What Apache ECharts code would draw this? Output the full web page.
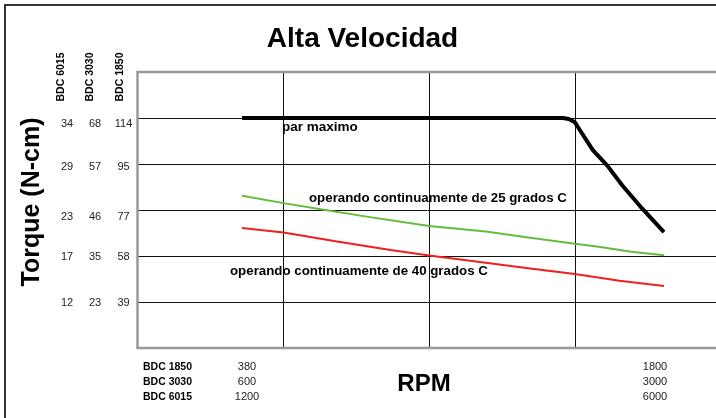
<!DOCTYPE html>
<html>
<head>
<meta charset="utf-8">
<script src="https://cdn.jsdelivr.net/npm/echarts@6/dist/echarts.min.js"></script>
<style>
  html, body { margin: 0; padding: 0; background: #fff; }
  #chart { width: 716px; height: 418px; }
</style>
</head>
<body>
<div id="chart"></div>
<script>
// Torque curves, BDC 1850 scale (RPM vs N-cm)
const maxTorqueRpm = [380, 1460, 1480, 1500, 1520, 1560, 1610, 1660, 1720, 1800];
const maxTorque    = [114, 114, 113.6, 112.3, 108.5, 101, 94.5, 86.5, 78, 67.5];

const cont25Rpm = [380, 520, 650, 800, 1010, 1200, 1350, 1500, 1580, 1690, 1800];
const cont25    = [82.3, 79.3, 76.7, 73.8, 70.0, 67.7, 65.2, 62.7, 61.5, 59.5, 58.1];

const cont40Rpm = [380, 520, 700, 880, 1010, 1200, 1350, 1500, 1650, 1800];
const cont40    = [69.2, 67.3, 63.7, 60.2, 58.0, 55.0, 52.7, 50.4, 47.7, 45.5];

// Torque tick labels per motor (bottom to top)
const ticks1850 = ['39', '58', '77', '95', '114'];
const ticks3030 = ['23', '35', '46', '57', '68'];
const ticks6015 = ['12', '17', '23', '29', '34'];

// Speed labels per motor
const motors   = ['BDC 1850', 'BDC 3030', 'BDC 6015'];
const rpmLow   = ['380', '600', '1200'];
const rpmHigh  = ['1800', '3000', '6000'];

const seriesNames = ['par maximo', 'operando continuamente de 25 grados C', 'operando continuamente de 40 grados C'];

const pair = (xs, ys) => xs.map((x, i) => [x, ys[i]]);

const FONT = 'Liberation Sans, Arial, Helvetica, sans-serif';
const Y_MIN = 20.25, Y_MAX = 132.75, Y_STEP = 18.75;
const X_MIN = 28.4, X_MAX = 1993.6, X_STEP = 491.3;

// small per-row nudges of the torque tick labels
const rowShift = [0.7, 1, 7, 3, 5.5];
const rich = {};
rowShift.forEach((s, i) => { rich['r' + i] = { padding: [2 * s, 0, 0, 0], fontSize: 11, fontFamily: FONT, color: '#222' }; });

function tickFormatter(labels) {
  return function (v) {
    const idx = Math.round((v - Y_MIN) / Y_STEP) - 1;
    if (idx < 0 || idx >= labels.length) return '';
    return '{r' + idx + '|' + labels[idx] + '}';
  };
}

function yAxisFor(labels, margin, showSplit) {
  return {
    type: 'value', position: 'left',
    min: Y_MIN, max: Y_MAX, interval: Y_STEP,
    axisLine: { show: false }, axisTick: { show: false },
    splitLine: { show: showSplit, lineStyle: { color: '#111', width: 1 } },
    axisLabel: {
      show: true, align: 'center', margin: margin,
      showMinLabel: false, showMaxLabel: false,
      formatter: tickFormatter(labels), rich: rich,
      fontSize: 11, fontFamily: FONT, color: '#222'
    }
  };
}

const chart = echarts.init(document.getElementById('chart'), null, { renderer: 'canvas' });

const graphics = [
  // outer frame
  { type: 'rect', shape: { x: 5, y: 5, width: 760, height: 460 }, style: { fill: 'none', stroke: '#333', lineWidth: 2 }, z: 50 },
  // plot frame
  { type: 'rect', shape: { x: 137.5, y: 72, width: 584, height: 276 }, style: { fill: 'none', stroke: '#999', lineWidth: 2.5 }, z: 60 },
  { type: 'text', x: 362.5, y: 39, style: { text: 'Alta Velocidad', font: 'bold 28px ' + FONT, fill: '#000', align: 'center', verticalAlign: 'middle' }, z: 70 },
  { type: 'text', x: 32, y: 202, rotation: Math.PI / 2, style: { text: 'Torque (N-cm)', font: 'bold 25px ' + FONT, fill: '#000', align: 'center', verticalAlign: 'middle' }, z: 70 },
  { type: 'text', x: 424, y: 384, style: { text: 'RPM', font: 'bold 24px ' + FONT, fill: '#000', align: 'center', verticalAlign: 'middle' }, z: 70 },
  { type: 'text', x: 282, y: 127.5, style: { text: seriesNames[0], font: 'bold 13.5px ' + FONT, fill: '#000', align: 'left', verticalAlign: 'middle' }, z: 70 },
  { type: 'text', x: 309, y: 198, style: { text: seriesNames[1], font: 'bold 13.3px ' + FONT, fill: '#000', align: 'left', verticalAlign: 'middle' }, z: 70 },
  { type: 'text', x: 230, y: 271.5, style: { text: seriesNames[2], font: 'bold 13.3px ' + FONT, fill: '#000', align: 'left', verticalAlign: 'middle' }, z: 70 }
];

// rotated motor headers above the torque columns
const headerX = [61, 90.5, 120.5];
['BDC 6015', 'BDC 3030', 'BDC 1850'].forEach((t, i) => {
  graphics.push({ type: 'text', x: headerX[i], y: 77, rotation: Math.PI / 2,
    style: { text: t, font: 'bold 10.5px ' + FONT, fill: '#000', align: 'center', verticalAlign: 'middle' }, z: 70 });
});

// speed table under the plot
const rowY = [366.7, 381.7, 396.7];
motors.forEach((m, i) => {
  graphics.push({ type: 'text', x: 143, y: rowY[i], style: { text: m, font: 'bold 10.5px ' + FONT, fill: '#000', align: 'left', verticalAlign: 'middle' }, z: 70 });
  graphics.push({ type: 'text', x: 247, y: rowY[i], style: { text: rpmLow[i], font: '11px ' + FONT, fill: '#222', align: 'center', verticalAlign: 'middle' }, z: 70 });
  graphics.push({ type: 'text', x: 655, y: rowY[i], style: { text: rpmHigh[i], font: '11px ' + FONT, fill: '#222', align: 'center', verticalAlign: 'middle' }, z: 70 });
});

chart.setOption({
  animation: false,
  backgroundColor: '#fff',
  grid: { left: 137.5, top: 72, right: -5.5, bottom: 70, outerBoundsMode: 'none', containLabel: false },
  xAxis: {
    type: 'value', min: X_MIN, max: X_MAX, interval: X_STEP,
    axisLine: { show: false }, axisTick: { show: false }, axisLabel: { show: false },
    splitLine: { show: true, lineStyle: { color: '#111', width: 1 } }
  },
  yAxis: [
    yAxisFor(ticks1850, 14, true),
    yAxisFor(ticks3030, 42.5, false),
    yAxisFor(ticks6015, 70.5, false)
  ],
  series: [
    { name: seriesNames[0], type: 'line', yAxisIndex: 0, data: pair(maxTorqueRpm, maxTorque), showSymbol: false, symbol: 'none',
      lineStyle: { color: '#000', width: 4, cap: 'butt', join: 'round' }, z: 10 },
    { name: seriesNames[1], type: 'line', yAxisIndex: 0, data: pair(cont25Rpm, cont25), showSymbol: false, symbol: 'none',
      lineStyle: { color: '#62bd3f', width: 2 }, z: 9 },
    { name: seriesNames[2], type: 'line', yAxisIndex: 0, data: pair(cont40Rpm, cont40), showSymbol: false, symbol: 'none',
      lineStyle: { color: '#f0201e', width: 2 }, z: 9 }
  ],
  graphic: graphics
});
</script>
</body>
</html>
